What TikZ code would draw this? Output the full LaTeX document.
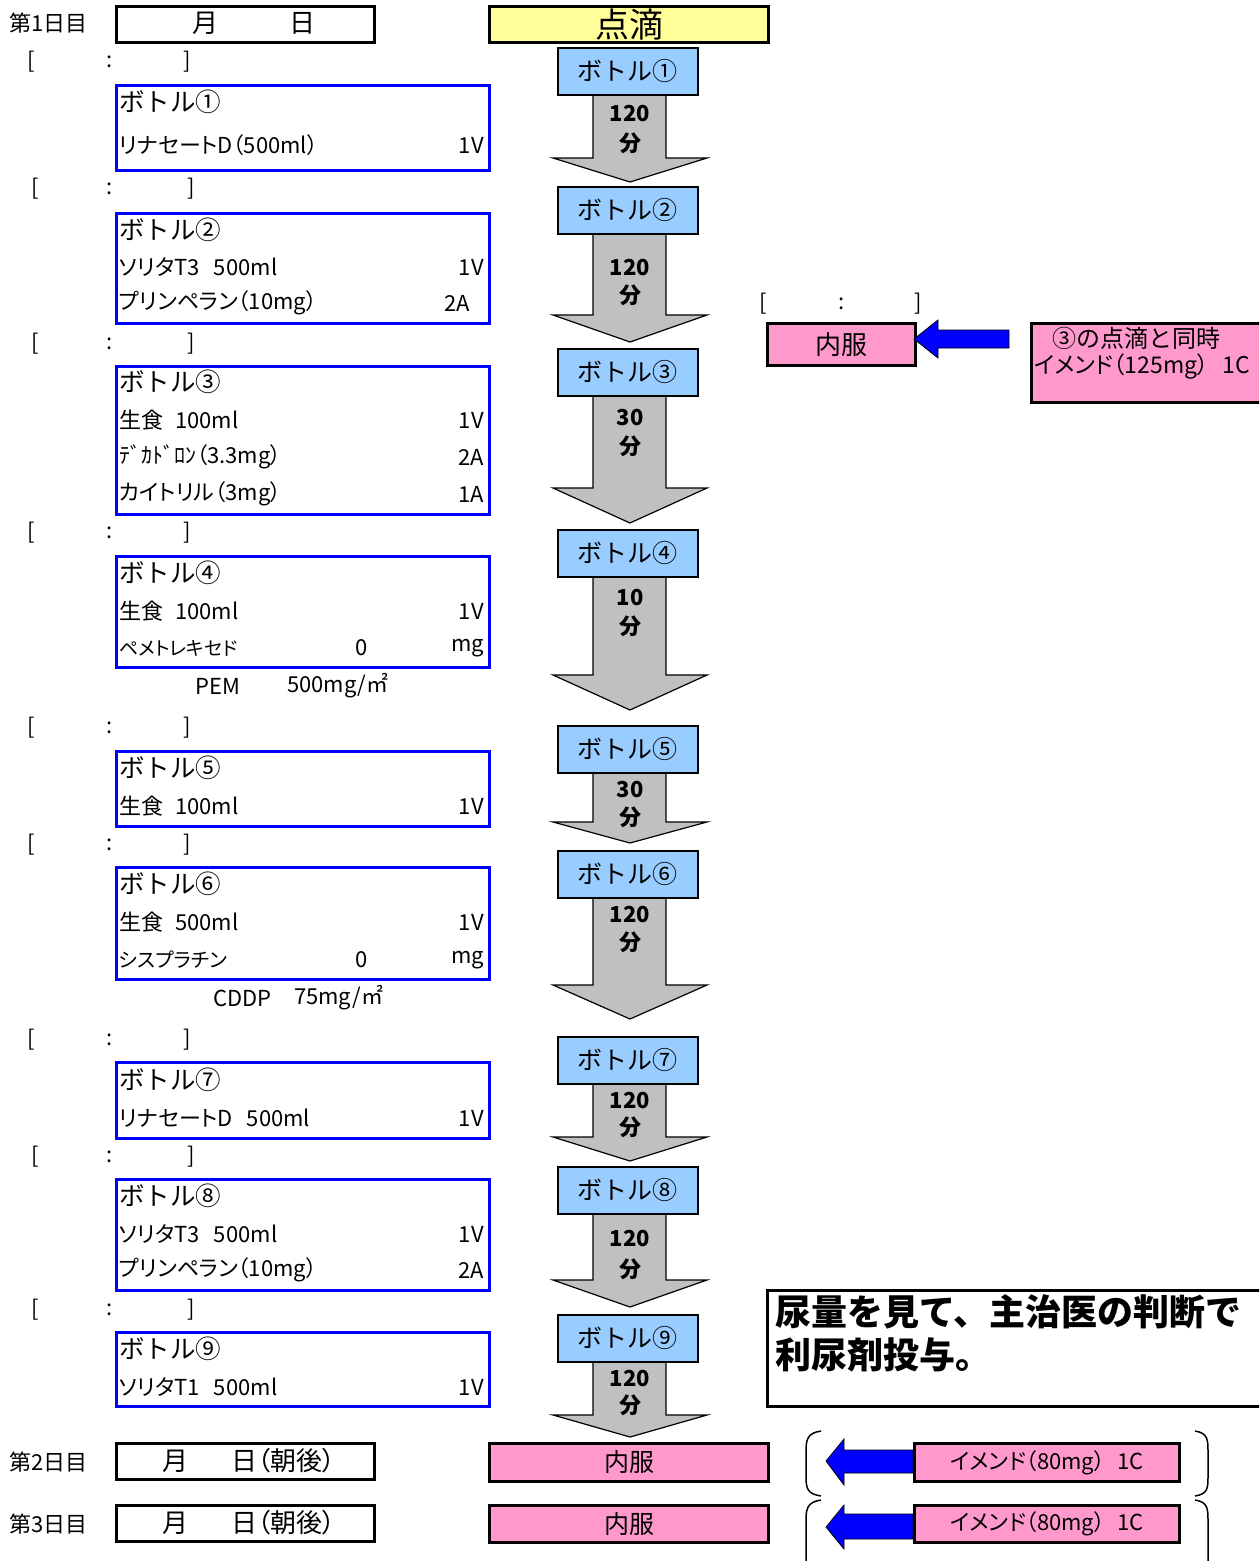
\documentclass[tikz,border=0pt]{standalone}
\usepackage{fontspec}
\setmainfont{Noto Sans CJK JP}[RawFeature=+palt]
\newfontfamily\jpfull{Noto Sans CJK JP}
\definecolor{bottleblue}{HTML}{99CCFF}
\definecolor{pinkfill}{HTML}{FF99CC}
\definecolor{yellowfill}{HTML}{FFFF99}
\definecolor{grayarrow}{HTML}{C0C0C0}
\definecolor{pureblue}{HTML}{0000FF}
\newcommand\fs[1]{\fontsize{#1}{#1}\selectfont}
\tikzset{
  tl/.style={inner sep=0pt, anchor=west, font=\fs{22}},
  tr/.style={inner sep=0pt, anchor=east, font=\fs{22}},
  tc/.style={inner sep=0pt, anchor=center, font=\fs{22}},
  ttl/.style={inner sep=0pt, anchor=west, font=\jpfull\fs{25.5}},
  lbox/.style={draw=pureblue, line width=3pt, minimum width=373pt, anchor=north west, inner sep=0pt},
  dbox/.style={draw=black, line width=3pt, minimum width=258pt, minimum height=36pt, anchor=north west, inner sep=0pt},
  btl/.style={draw=black, line width=1.5pt, fill=bottleblue, minimum width=140pt, minimum height=47pt, anchor=north west, inner sep=0pt, font=\jpfull\fs{25}},
  pbox/.style={draw=black, line width=3pt, fill=pinkfill, anchor=north west, inner sep=0pt},
  garrow/.style={draw=black, line width=1.2pt, fill=grayarrow, line join=miter},
  barrow/.style={draw=black, line width=0.8pt, fill=pureblue},
  atime/.style={inner sep=0pt, anchor=center, font=\fs{22}\bfseries},
  paren/.style={draw=black, line width=1.5pt}
}
\newcommand\garr[3]{\draw[garrow] (593,#1) -- (666,#1) -- (666,#2) -- (707,#2) -- (630,#3) -- (553,#2) -- (593,#2) -- cycle;}
\newcommand\brk[4]{%
  \node[tl] (#1a) at (#3,#2) {[};
  \node[tc] (#1b) at (110,#2) {:};
  \node[tl] (#1c) at (#4,#2) {]};}
\begin{document}
\begin{tikzpicture}[x=1pt,y=-1pt]
\useasboundingbox (0,0) rectangle (1259,1561);
\clip (0,0) rectangle (1259,1561);
\fill[white] (0,0) rectangle (1259,1561);

% ---------- Day 1 header ----------
\node[tl] (d1) at (9,23) {第1日目};
\node[dbox] (d1box) at (115,5) {};
\node[tc, font=\fs{26}] (d1m) at (205,23) {月};
\node[tc, font=\fs{26}] (d1d) at (302,23) {日};
\node[pbox, fill=yellowfill, minimum width=279pt, minimum height=36pt, font=\jpfull\fs{34}] (tenteki) at (488,5) {点滴};

% ---------- center gray arrows ----------
\garr{94}{158}{182}
\garr{233}{315}{342}
\garr{395}{488}{523}
\garr{576}{675}{710}
\garr{771}{822}{843}
\garr{896}{985}{1019}
\garr{1082}{1137}{1161}
\garr{1213}{1280}{1307}
\garr{1360}{1415}{1437}

% ---------- bottle boxes ----------
\node[btl] (b1) at (557,47) {ボトル①};
\node[btl] (b2) at (557,186) {ボトル②};
\node[btl] (b3) at (557,348) {ボトル③};
\node[btl] (b4) at (557,529) {ボトル④};
\node[btl] (b5) at (557,725) {ボトル⑤};
\node[btl] (b6) at (557,850) {ボトル⑥};
\node[btl] (b7) at (557,1036) {ボトル⑦};
\node[btl] (b8) at (557,1166) {ボトル⑧};
\node[btl] (b9) at (557,1314) {ボトル⑨};

% ---------- times ----------
\node[atime] (t1a) at (630,114) {120}; \node[atime] (t1b) at (630,143) {分};
\node[atime] (t2a) at (630,268) {120}; \node[atime] (t2b) at (630,295) {分};
\node[atime] (t3a) at (630,418) {30};  \node[atime] (t3b) at (630,446) {分};
\node[atime] (t4a) at (630,598) {10};  \node[atime] (t4b) at (630,626) {分};
\node[atime] (t5a) at (630,790) {30};  \node[atime] (t5b) at (630,817) {分};
\node[atime] (t6a) at (630,915) {120}; \node[atime] (t6b) at (630,942) {分};
\node[atime] (t7a) at (630,1100) {120}; \node[atime] (t7b) at (630,1127) {分};
\node[atime] (t8a) at (630,1238) {120}; \node[atime] (t8b) at (630,1269) {分};
\node[atime] (t9a) at (630,1378) {120}; \node[atime] (t9b) at (630,1405) {分};

% ---------- time brackets ----------
\brk{k1}{62}{27}{183}
\brk{k2}{189}{31}{187}
\brk{k3}{344}{31}{187}
\brk{k4}{533}{27}{183}
\brk{k5}{728}{27}{183}
\brk{k6}{845}{27}{183}
\brk{k7}{1040}{27}{183}
\brk{k8}{1157}{31}{187}
\brk{k9}{1310}{31}{187}

% ---------- left boxes ----------
\node[lbox, minimum height=85pt] (L1) at (115,84) {};
\node[ttl] (L1t) at (119,102) {ボトル①};
\node[tl] (L1a) at (119,145) {リナセートD（500ml）};
\node[tr] (L1b) at (484,145) {1V};

\node[lbox, minimum height=110pt] (L2) at (115,212) {};
\node[ttl] (L2t) at (119,230) {ボトル②};
\node[tl] (L2a) at (119,267) {ソリタT3\hspace{14pt}500ml};
\node[tr] (L2b) at (484,267) {1V};
\node[tl] (L2c) at (119,303) {プリンペラン（10mg）};
\node[tr] (L2d) at (470,303) {2A};

\node[lbox, minimum height=148pt] (L3) at (115,365) {};
\node[ttl] (L3t) at (119,382) {ボトル③};
\node[tl] (L3a) at (119,420) {生食\hspace{12pt}100ml};
\node[tr] (L3b) at (484,420) {1V};
\node[tl] (L3c) at (119,457) {ﾃﾞｶﾄﾞﾛﾝ（3.3mg）};
\node[tr] (L3d) at (484,457) {2A};
\node[tl] (L3e) at (119,494) {カイトリル（3mg）};
\node[tr] (L3f) at (484,494) {1A};

\node[lbox, minimum height=111pt] (L4) at (115,555) {};
\node[ttl] (L4t) at (119,573) {ボトル④};
\node[tl] (L4a) at (119,611) {生食\hspace{12pt}100ml};
\node[tr] (L4b) at (484,611) {1V};
\node[tl, font=\fs{19}] (L4c) at (119,648) {ペメトレキセド};
\node[tc] (L4d) at (362,648) {0};
\node[tr] (L4e) at (484,648) {mg};
\node[tl] (pem) at (195,686) {PEM};
\node[tl] (pemd) at (287,686) {500mg/㎡};

\node[lbox, minimum height=75pt] (L5) at (115,750) {};
\node[ttl] (L5t) at (119,768) {ボトル⑤};
\node[tl] (L5a) at (119,806) {生食\hspace{12pt}100ml};
\node[tr] (L5b) at (484,806) {1V};

\node[lbox, minimum height=112pt] (L6) at (115,866) {};
\node[ttl] (L6t) at (119,884) {ボトル⑥};
\node[tl] (L6a) at (119,922) {生食\hspace{12pt}500ml};
\node[tr] (L6b) at (484,922) {1V};
\node[tl, font=\fs{20}] (L6c) at (119,960) {シスプラチン};
\node[tc] (L6d) at (362,960) {0};
\node[tr] (L6e) at (484,960) {mg};
\node[tl] (cddp) at (213,998) {CDDP};
\node[tl] (cddpd) at (294,998) {75mg/㎡};

\node[lbox, minimum height=76pt] (L7) at (115,1061) {};
\node[ttl] (L7t) at (119,1080) {ボトル⑦};
\node[tl] (L7a) at (119,1118) {リナセートD\hspace{14pt}500ml};
\node[tr] (L7b) at (484,1118) {1V};

\node[lbox, minimum height=111pt] (L8) at (115,1178) {};
\node[ttl] (L8t) at (119,1196) {ボトル⑧};
\node[tl] (L8a) at (119,1234) {ソリタT3\hspace{14pt}500ml};
\node[tr] (L8b) at (484,1234) {1V};
\node[tl] (L8c) at (119,1270) {プリンペラン（10mg）};
\node[tr] (L8d) at (484,1270) {2A};

\node[lbox, minimum height=74pt] (L9) at (115,1331) {};
\node[ttl] (L9t) at (119,1349) {ボトル⑨};
\node[tl] (L9a) at (119,1387) {ソリタT1\hspace{14pt}500ml};
\node[tr] (L9b) at (484,1387) {1V};

% ---------- oral medication with bottle 3 ----------
\node[tl] (k0a) at (759,304) {[};
\node[tc] (k0b) at (842,304) {:};
\node[tl] (k0c) at (914,304) {]};
\node[pbox, minimum width=148pt, minimum height=42pt, font=\jpfull\fs{26}] (naifuku0) at (766,322) {内服};
\node[pbox, minimum width=260pt, minimum height=79pt] (emend0) at (1030,322) {};
\node[tl, font=\jpfull\fs{24}] (emend0a) at (1052,338) {③の点滴と同時};
\node[tl, font=\fs{23}] (emend0b) at (1034,367) {イメンド（125mg）\hspace{14pt}1C};
\draw[barrow] (1009,330) -- (938,330) -- (938,320) -- (914,339) -- (938,358) -- (938,348) -- (1009,348) -- cycle;

% ---------- note ----------
\node[pbox, fill=white, minimum width=500pt, minimum height=116pt] (note) at (766,1289) {};
\node[tl, font=\jpfull\fs{36}\bfseries] (note1) at (775,1312) {尿量を見て、主治医の判断で};
\node[tl, font=\jpfull\fs{36}\bfseries] (note2) at (775,1355) {利尿剤投与。};

% ---------- Day 2, Day 3 ----------
\node[tl] (d2) at (9,1462) {第2日目};
\node[dbox] (d2box) at (115,1442) {};
\node[tc, font=\fs{26}] (d2m) at (175,1461) {月};
\node[tl, font=\fs{26}] (d2d) at (231,1461) {日（朝後）};
\node[pbox, minimum width=279pt, minimum height=38pt, font=\jpfull\fs{25}] (nf2) at (488,1442) {内服};

\node[tl] (d3) at (9,1524) {第3日目};
\node[dbox] (d3box) at (115,1504) {};
\node[tc, font=\fs{26}] (d3m) at (175,1523) {月};
\node[tl, font=\fs{26}] (d3d) at (231,1523) {日（朝後）};
\node[pbox, minimum width=279pt, minimum height=37pt, font=\jpfull\fs{25}] (nf3) at (488,1504) {内服};

\node[pbox, minimum width=265pt, minimum height=38pt, font=\fs{22}] (em2) at (913,1442) {イメンド（80mg）\hspace{12pt}1C};
\node[pbox, minimum width=265pt, minimum height=37pt, font=\fs{22}] (em3) at (913,1504) {イメンド（80mg）\hspace{12pt}1C};

\draw[barrow] (em2.west |- 0,1450) -- (844,1450) -- (844,1439) -- (826,1461) -- (844,1485) -- (844,1473) -- (em2.west |- 0,1473) -- cycle;
\draw[barrow] (em3.west |- 0,1514) -- (844,1514) -- (844,1505) -- (826,1527) -- (844,1549) -- (844,1539) -- (em3.west |- 0,1539) -- cycle;

% parentheses
\draw[paren] (821,1431) .. controls (807,1433) and (806,1440) .. (806,1452) -- (806,1476) .. controls (806,1488) and (807,1494) .. (821,1496);
\draw[paren] (1195,1431) .. controls (1208,1433) and (1208,1440) .. (1208,1452) -- (1208,1476) .. controls (1208,1488) and (1208,1494) .. (1195,1496);
\draw[paren] (821,1500) .. controls (807,1502) and (806,1509) .. (806,1521) -- (806,1570);
\draw[paren] (1195,1500) .. controls (1208,1502) and (1208,1509) .. (1208,1521) -- (1208,1570);
\end{tikzpicture}
\end{document}
